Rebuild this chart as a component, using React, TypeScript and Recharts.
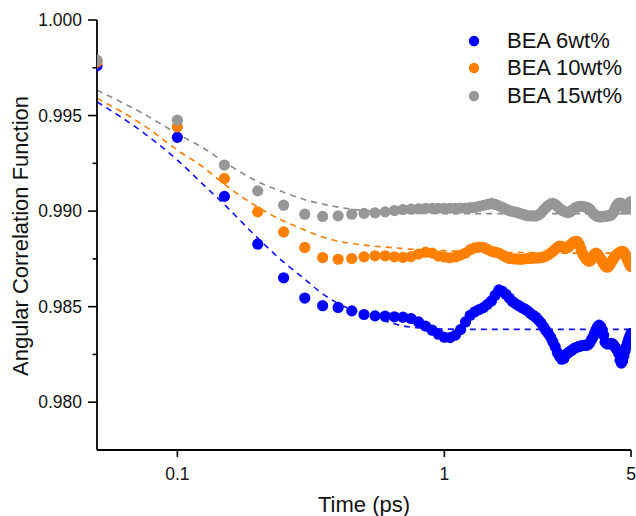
import React from "react";
import { ComposedChart, Scatter, Line, XAxis, YAxis, Legend } from "recharts";

const times = [
  0.05, 0.1, 0.15, 0.2, 0.25, 0.3, 0.35, 0.4, 0.45, 0.5,
  0.55, 0.6, 0.65, 0.7, 0.75, 0.8, 0.85, 0.9, 0.95, 1.0,
  1.05, 1.1, 1.15, 1.2, 1.25, 1.3, 1.35, 1.4, 1.45, 1.5,
  1.55, 1.6, 1.65, 1.7, 1.75, 1.8, 1.85, 1.9, 1.95, 2.0,
  2.05, 2.1, 2.15, 2.2, 2.25, 2.3, 2.35, 2.4, 2.45, 2.5,
  2.55, 2.6, 2.65, 2.7, 2.75, 2.8, 2.85, 2.9, 2.95, 3.0,
  3.05, 3.1, 3.15, 3.2, 3.25, 3.3, 3.35, 3.4, 3.45, 3.5,
  3.55, 3.6, 3.65, 3.7, 3.75, 3.8, 3.85, 3.9, 3.95, 4.0,
  4.05, 4.1, 4.15, 4.2, 4.25, 4.3, 4.35, 4.4, 4.45, 4.5,
  4.55, 4.6, 4.65, 4.7, 4.75, 4.8, 4.85, 4.9, 4.95, 5.0,
];

const bea6 = [
  0.9976, 0.99386, 0.99077, 0.98827, 0.98651, 0.98545, 0.98505, 0.98496, 0.98478, 0.98459,
  0.98452, 0.9845, 0.98447, 0.98445, 0.98438, 0.9842, 0.98398, 0.98377, 0.98356, 0.9834,
  0.98338, 0.98351, 0.9838, 0.9842, 0.98455, 0.98473, 0.98485, 0.98495, 0.98512, 0.9853,
  0.9856, 0.98588, 0.9858, 0.98565, 0.98545, 0.98527, 0.98515, 0.98505, 0.98495, 0.98488,
  0.98478, 0.98465, 0.98455, 0.98445, 0.9843, 0.98415, 0.98395, 0.98375, 0.9836, 0.9834,
  0.98315, 0.9829, 0.9826, 0.9824, 0.98225, 0.98228, 0.98248, 0.98258, 0.98265, 0.98272,
  0.9828, 0.98285, 0.98289, 0.98292, 0.98295, 0.98297, 0.98298, 0.98298, 0.983, 0.9831,
  0.98325, 0.9834, 0.9836, 0.9838, 0.98395, 0.98403, 0.98395, 0.98378, 0.9835, 0.98315,
  0.98307, 0.98305, 0.98306, 0.98308, 0.98307, 0.983, 0.9829, 0.9828, 0.98272, 0.98255,
  0.9822, 0.98205, 0.98215, 0.9824, 0.98268, 0.9829, 0.9831, 0.9833, 0.98345, 0.9836,
];

const bea10 = [
  0.9978, 0.99441, 0.99171, 0.98996, 0.98891, 0.9881, 0.98757, 0.98748, 0.98752, 0.98761,
  0.98766, 0.98766, 0.98761, 0.98758, 0.98762, 0.98775, 0.98785, 0.9878, 0.98765, 0.9876,
  0.98756, 0.9876, 0.9877, 0.9878, 0.98798, 0.98808, 0.98812, 0.9881, 0.988, 0.9879,
  0.98785, 0.9878, 0.9877, 0.9876, 0.98752, 0.9875, 0.9875, 0.98748, 0.98748, 0.9875,
  0.98752, 0.98752, 0.98754, 0.98755, 0.98755, 0.98757, 0.9876, 0.98765, 0.98772, 0.9878,
  0.9879, 0.988, 0.9881, 0.98817, 0.98815, 0.98808, 0.98805, 0.9881, 0.9882, 0.9883,
  0.98838, 0.98842, 0.9884, 0.98825, 0.988, 0.98775, 0.9876, 0.98748, 0.9874, 0.98738,
  0.98745, 0.9876, 0.98775, 0.9878, 0.98775, 0.98762, 0.9875, 0.98738, 0.98725, 0.98712,
  0.98708, 0.98708, 0.98715, 0.98728, 0.9874, 0.98752, 0.98762, 0.9877, 0.98775, 0.9878,
  0.98785, 0.98788, 0.9879, 0.98785, 0.98775, 0.9876, 0.98745, 0.9873, 0.98718, 0.9871,
];

const bea15 = [
  0.9979, 0.99476, 0.99241, 0.99106, 0.99031, 0.98984, 0.98972, 0.98975, 0.98984, 0.98988,
  0.98991, 0.98996, 0.99003, 0.99008, 0.9901, 0.99012, 0.99014, 0.99015, 0.99015, 0.99015,
  0.99015, 0.99015, 0.99016, 0.99016, 0.99018, 0.9902, 0.99025, 0.9903, 0.99035, 0.9904,
  0.99035, 0.99028, 0.9902, 0.9901, 0.99003, 0.98998, 0.98995, 0.9899, 0.98985, 0.9898,
  0.98976, 0.98975, 0.98975, 0.98974, 0.9898, 0.9899, 0.99005, 0.99018, 0.9903, 0.99038,
  0.9904, 0.99035, 0.99025, 0.99015, 0.99005, 0.99, 0.98995, 0.98992, 0.98995, 0.99003,
  0.9901, 0.99018, 0.99022, 0.99024, 0.99025, 0.99024, 0.99022, 0.9902, 0.99017, 0.9901,
  0.99, 0.9899, 0.98982, 0.98976, 0.98972, 0.9897, 0.9897, 0.98971, 0.98972, 0.98973,
  0.98974, 0.98975, 0.98976, 0.98978, 0.98985, 0.98995, 0.9901, 0.99025, 0.99035, 0.9904,
  0.99042, 0.9904, 0.99035, 0.99025, 0.99015, 0.9901, 0.99015, 0.9903, 0.99045, 0.9905,
];

const fitTimes = [0.05, 0.075, 0.1, 0.125, 0.15, 0.2, 0.25, 0.3, 0.35, 0.4, 0.5, 0.6, 0.7, 0.8, 1.0, 1.5, 2, 3, 5];
const fit6 = [0.99572, 0.99408, 0.99267, 0.99139, 0.99034, 0.98859, 0.98733, 0.98644, 0.98567, 0.98517, 0.98461, 0.98424, 0.98399, 0.98389, 0.98383, 0.98381, 0.98381, 0.98381, 0.98381];
const fit10 = [0.9959, 0.99448, 0.99319, 0.9923, 0.99141, 0.99021, 0.98948, 0.98901, 0.98864, 0.98843, 0.98822, 0.98812, 0.98804, 0.98798, 0.98793, 0.98785, 0.98783, 0.9878, 0.9878];
const fit15 = [0.99633, 0.99508, 0.99405, 0.9933, 0.99257, 0.99154, 0.99099, 0.9906, 0.99037, 0.99021, 0.99003, 0.98995, 0.9899, 0.98988, 0.98987, 0.98987, 0.98987, 0.98987, 0.98987];

const xTicks = [0.1, 1, 5];
const yTicks = [0.98, 0.9825, 0.985, 0.9875, 0.99, 0.9925, 0.995, 0.9975, 1.0];

const seriesNames = ["BEA 6wt%", "BEA 10wt%", "BEA 15wt%"];
const pointColors = ["#0000ff", "#ff8000", "#979797"];
const fitColors = ["#1010ff", "#ff7a00", "#8a8a8a"];

const toPts = (vals: number[], ts: number[]) => vals.map((v, i) => ({ t: ts[i], v }));
const seriesData = [toPts(bea6, times), toPts(bea10, times), toPts(bea15, times)];
const fitData = [toPts(fit6, fitTimes), toPts(fit10, fitTimes), toPts(fit15, fitTimes)];

const FONT = "'Liberation Sans', Arial, Helvetica, sans-serif";

const YTick = (props: any) => {
  const { y, payload } = props;
  const v = payload.value;
  const major = Math.abs(v * 200 - Math.round(v * 200)) < 1e-6;
  const ax = 97;
  return (
    <g>
      <line x1={ax - (major ? 9 : 4.5)} x2={ax} y1={y} y2={y} stroke="#000" strokeWidth={1.6} />
      {major && (
        <text x={ax - 15} y={y + 6.2} textAnchor="end" fontSize={17.5} fontFamily={FONT} fill="#111">
          {v.toFixed(3)}
        </text>
      )}
    </g>
  );
};

const XTick = (props: any) => {
  const { x, payload } = props;
  const ay = 450;
  return (
    <g>
      <line x1={x} x2={x} y1={ay} y2={ay + 7} stroke="#000" strokeWidth={1.6} />
      <text x={x} y={ay + 30} textAnchor="middle" fontSize={17.5} fontFamily={FONT} fill="#111">
        {String(payload.value)}
      </text>
    </g>
  );
};

const XLabel = (props: any) => {
  const vb = props.viewBox || { x: 97, y: 450, width: 534 };
  return (
    <text x={vb.x + vb.width / 2} y={512} textAnchor="middle" fontSize={22} fontFamily={FONT} fill="#111">
      Time (ps)
    </text>
  );
};

const YLabel = () => (
  <text x={28} y={236} transform="rotate(-90, 28, 236)" textAnchor="middle" fontSize={22} fontFamily={FONT} fill="#111">
    Angular Correlation Function
  </text>
);

const LegendContent = () => (
  <div style={{ position: "relative", width: 636, height: 120, fontFamily: FONT }}>
    {seriesNames.map((name, i) => (
      <React.Fragment key={name}>
        <svg style={{ position: "absolute", left: 468, top: [41, 68.3, 96][i] - 6 }} width={12} height={12}>
          <circle cx={6} cy={6} r={5.2} fill={pointColors[i]} />
        </svg>
        <div
          style={{
            position: "absolute",
            left: 507,
            top: [41, 68.3, 96][i] - 11,
            fontSize: 22,
            lineHeight: "22px",
            color: "#111",
            whiteSpace: "nowrap",
          }}
        >
          {name}
        </div>
      </React.Fragment>
    ))}
  </div>
);

const makeDot = (color: string) => (p: any) =>
  p.cx == null ? <g /> : <circle cx={p.cx} cy={p.cy} r={5.6} fill={color} />;

export default function App() {
  return (
    <div style={{ position: "absolute", left: 0, top: 0, width: 636, height: 516, background: "#fff" }}>
      <ComposedChart width={636} height={516} margin={{ top: 20, right: 5, bottom: 0, left: 0 }}>
        <XAxis
          type="number"
          dataKey="t"
          scale="log"
          domain={[0.05, 5]}
          ticks={xTicks}
          height={66}
          axisLine={{ stroke: "#000", strokeWidth: 1.8 }}
          tickLine={false}
          tick={<XTick />}
          label={<XLabel />}
          allowDataOverflow
        />
        <YAxis
          type="number"
          dataKey="v"
          domain={[0.9775, 1.0]}
          ticks={yTicks}
          width={97}
          axisLine={{ stroke: "#000", strokeWidth: 1.8 }}
          tickLine={false}
          tick={<YTick />}
          label={<YLabel />}
          interval={0}
        />
        {seriesData.map((d, i) => (
          <Scatter
            key={"s" + i}
            name={seriesNames[i]}
            data={d}
            fill={pointColors[i]}
            shape={makeDot(pointColors[i])}
            isAnimationActive={false}
          />
        ))}
        {fitData.map((d, i) => (
          <Line
            key={"f" + i}
            data={d}
            dataKey="v"
            type="monotone"
            stroke={fitColors[i]}
            strokeWidth={1.6}
            strokeDasharray="6 5"
            dot={false}
            activeDot={false}
            legendType="none"
            isAnimationActive={false}
          />
        ))}
        <Legend
          layout="vertical"
          align="center"
          verticalAlign="middle"
          content={<LegendContent />}
          wrapperStyle={{ left: 0, top: 0, width: 636, height: 120 }}
        />
      </ComposedChart>
    </div>
  );
}
